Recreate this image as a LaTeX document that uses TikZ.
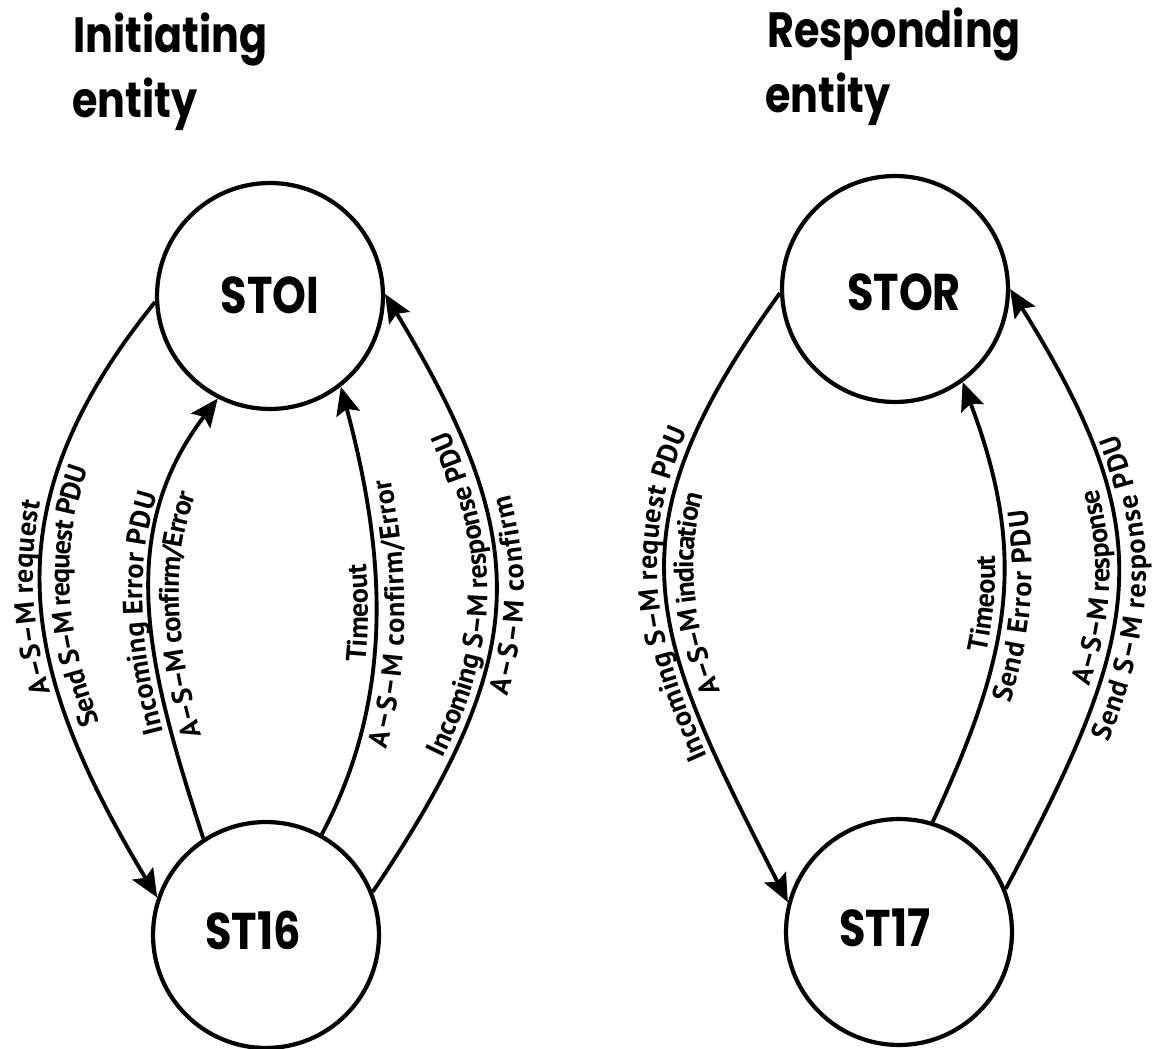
\documentclass[tikz,border=0pt]{standalone}
\usepackage{fontspec}
\setmainfont{PT Sans}
\newfontfamily\lblfamily{PT Sans}
\newfontfamily\headfnt{Poppins}
\usetikzlibrary{arrows.meta,decorations.text}
\newcommand\lblfnt{\lblfamily\bfseries\fontsize{16pt}{19pt}\selectfont}
\newcommand\tallbox[1]{\scalebox{1}[1.2]{#1}}

\begin{document}
\begin{tikzpicture}[x=0.02cm,y=0.02cm,
  state/.style={circle, draw, line width=2.4pt, minimum size=4.52cm, inner sep=0pt},
  statename/.style={inner sep=0pt, font=\headfnt\bfseries\fontsize{24.5pt}{30pt}\selectfont},
  heading/.style={inner sep=0pt, anchor=base west, font=\headfnt\bfseries\fontsize{23.5pt}{30pt}\selectfont},
  conn/.style={line width=2.2pt, -{Stealth[length=0.56cm,width=0.48cm,inset=0.1cm]}},
  outlbl/.style={decorate, decoration={text along path, text align=center, raise=0.16cm, text={|\lblfnt|#1}}},
  inlbl/.style={decorate, decoration={text along path, text align=center, raise=-0.57cm, text={|\lblfnt|#1}}},
]
% page frame
\fill[white] (0,0) rectangle (1154,1049);
\useasboundingbox (0,0) rectangle (1154,1049);

% headings
\node[heading] (h1a) at (73,996) {\tallbox{Initiating}};
\node[heading] (h1b) at (72,931) {\tallbox{entity}};
\node[heading] (h2a) at (767,1001) {\tallbox{Responding}};
\node[heading] (h2b) at (765,936) {\tallbox{entity}};

% states of the initiating entity
\node[state] (s01) at (270,753) {};
\node[state] (s16) at (266,114) {};
\node[statename] (n01) at (270,754) {\tallbox{STOI}};
\node[statename] (n16) at (253,119) {\tallbox{ST16}};

% states of the responding entity
\node[state] (sOR) at (895,760) {};
\node[state] (s17) at (899,117) {};
\node[statename] (nOR) at (904,757) {\tallbox{STOR}};
\node[statename] (n17) at (885,121) {\tallbox{ST17}};

% transitions, initiating side
\draw[conn] (s01.183) .. controls +(231:268) and +(121:268) .. (s16.161);
\draw[conn] (s16.123) .. controls +(108:174) and +(232.5:174) .. (s01.243);
\draw[conn] (s16.61) .. controls +(62:163) and +(285:163) .. (s01.308);
\draw[conn] (s16.22) .. controls +(56:289) and +(301:289) .. (s01.1.5);

\path[outlbl={A–S–M request}] (s16.161) .. controls +(121:268) and +(231:268) .. (s01.183);
\path[inlbl={Send S–M request PDU}] (s16.161) .. controls +(121:268) and +(231:268) .. (s01.183);
\path[outlbl={Incoming Error PDU}] (s16.123) .. controls +(108:174) and +(232.5:174) .. (s01.243);
\path[inlbl={A–S–M confirm/Error}] (s16.123) .. controls +(108:174) and +(232.5:174) .. (s01.243);
\path[outlbl={Timeout}] (s16.61) .. controls +(62:163) and +(285:163) .. (s01.308);
\path[inlbl={A–S–M confirm/Error}] (s16.61) .. controls +(62:163) and +(285:163) .. (s01.308);
\path[outlbl={Incoming S–M response PDU}] (s16.22) .. controls +(56:289) and +(301:289) .. (s01.1.5);
\path[inlbl={A–S–M confirm}] (s16.22) .. controls +(56:289) and +(301:289) .. (s01.1.5);

% transitions, responding side
\draw[conn] (sOR.182) .. controls +(234:302) and +(117:302) .. (s17.165);
\draw[conn] (s17.73) .. controls +(65:186) and +(290.6:186) .. (sOR.306.5);
\draw[conn] (s17.22) .. controls +(62:292) and +(302:292) .. (sOR.0);

\path[outlbl={Incoming S–M request PDU}] (s17.165) .. controls +(117:302) and +(234:302) .. (sOR.182);
\path[inlbl={A–S–M indication}] (s17.165) .. controls +(117:302) and +(234:302) .. (sOR.182);
\path[outlbl={Timeout}] (s17.73) .. controls +(65:186) and +(290.6:186) .. (sOR.306.5);
\path[inlbl={Send Error PDU}] (s17.73) .. controls +(65:186) and +(290.6:186) .. (sOR.306.5);
\path[outlbl={A–S–M response}] (s17.22) .. controls +(62:292) and +(302:292) .. (sOR.0);
\path[inlbl={Send S–M response PDU}] (s17.22) .. controls +(62:292) and +(302:292) .. (sOR.0);
\end{tikzpicture}
\end{document}
